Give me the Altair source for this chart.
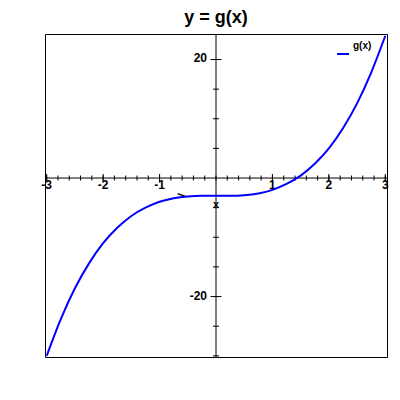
import altair as alt
import pandas as pd

# curve g(x)
x_vals = [-3, -2.75, -2.5, -2.25, -2, -1.75, -1.5, -1.25, -1, -0.75, -0.5, -0.25,
          0, 0.25, 0.5, 0.75, 1, 1.25, 1.5, 1.75, 2, 2.25, 2.5, 2.75, 3]
g_vals = [-30, -23.8, -18.6, -14.4, -11, -8.4, -6.4, -5.0, -4, -3.4, -3.1, -3.0,
          -3, -3.0, -2.9, -2.6, -2, -1.0, 0.4, 2.4, 5, 8.4, 12.6, 17.8, 24]
series_name = "g(x)"

x_major = [-3, -2, -1, 1, 2, 3]
x_major_labels = ["-3", "-2", "-1", "1", "2", "3"]
x_minor = [round(-3 + 0.2 * i, 1) for i in range(31)]
y_major = [-20, 20]
y_major_labels = ["-20", "20"]
y_minor = [-30, -25, -15, -10, -5, 5, 10, 15]

title_text = "y = g(x)"
x_title = "x"
arrow_start = (-0.68, -2.65)
arrow_end = (-0.53, -3.15)

FONT = "Liberation Sans"
BLUE = "#0000ff"
xs = alt.Scale(domain=[-3.03, 3.03], nice=False, zero=False)
ys = alt.Scale(domain=[-30.2, 24.3], nice=False, zero=False)

curve_df = pd.DataFrame({"x": x_vals, "y": g_vals, "series": series_name})

curve = alt.Chart(curve_df).mark_line(
    strokeWidth=2, interpolate="monotone", color=BLUE).encode(
    x=alt.X("x:Q", scale=xs, axis=None),
    y=alt.Y("y:Q", scale=ys, axis=None),
    detail="series:N",
)

# legend (manual, placed in the top-right corner of the plot)
leg_df = pd.DataFrame({"lab": [series_name]})
legend_line = alt.Chart(leg_df).mark_rule(color=BLUE, strokeWidth=2).encode(
    x=alt.value(292), x2=alt.value(304), y=alt.value(20))
legend_text = alt.Chart(leg_df).mark_text(
    font=FONT, fontSize=10, fontWeight="bold", align="left", baseline="middle",
    color="black").encode(x=alt.value(308), y=alt.value(12), text="lab:N")

zero_df = pd.DataFrame({"v": [0]})
x_axis_line = alt.Chart(zero_df).mark_rule(color="black", strokeWidth=1).encode(
    y=alt.Y("v:Q", scale=ys, axis=None))
y_axis_line = alt.Chart(zero_df).mark_rule(color="black", strokeWidth=1).encode(
    x=alt.X("v:Q", scale=xs, axis=None))

xminor_df = pd.DataFrame({"t": x_minor, "z": 0})
xmajor_df = pd.DataFrame({"t": x_major, "z": 0, "lab": x_major_labels})
yminor_df = pd.DataFrame({"t": y_minor, "z": 0})
ymajor_df = pd.DataFrame({"t": y_major, "z": 0, "lab": y_major_labels})

x_minor_ticks = alt.Chart(xminor_df).mark_tick(
    orient="vertical", size=5, thickness=1, color="black", opacity=1).encode(
    x=alt.X("t:Q", scale=xs, axis=None), y=alt.Y("z:Q", scale=ys, axis=None))
x_major_ticks = alt.Chart(xmajor_df).mark_tick(
    orient="vertical", size=8, thickness=1, color="black", opacity=1).encode(
    x=alt.X("t:Q", scale=xs, axis=None), y=alt.Y("z:Q", scale=ys, axis=None))
y_minor_ticks = alt.Chart(yminor_df).mark_tick(
    orient="horizontal", size=6, thickness=1, color="black", opacity=1).encode(
    y=alt.Y("t:Q", scale=ys, axis=None), x=alt.X("z:Q", scale=xs, axis=None))
y_major_ticks = alt.Chart(ymajor_df).mark_tick(
    orient="horizontal", size=11, thickness=1, color="black", opacity=1).encode(
    y=alt.Y("t:Q", scale=ys, axis=None), x=alt.X("z:Q", scale=xs, axis=None))

x_labels = alt.Chart(xmajor_df).mark_text(
    font=FONT, fontSize=12, fontWeight="bold", baseline="top", align="center",
    dy=2, color="black").encode(
    x=alt.X("t:Q", scale=xs, axis=None), y=alt.Y("z:Q", scale=ys, axis=None),
    text="lab:N")
y_labels = alt.Chart(ymajor_df).mark_text(
    font=FONT, fontSize=12, fontWeight="bold", baseline="middle", align="right",
    dx=-9, dy=-1, color="black").encode(
    y=alt.Y("t:Q", scale=ys, axis=None), x=alt.X("z:Q", scale=xs, axis=None),
    text="lab:N")

xt_df = pd.DataFrame({"x": [0], "y": [0], "lab": [x_title]})
x_title_mark = alt.Chart(xt_df).mark_text(
    font=FONT, fontSize=11, fontWeight="bold", baseline="middle", align="center",
    dy=27, color="black").encode(
    x=alt.X("x:Q", scale=xs, axis=None), y=alt.Y("y:Q", scale=ys, axis=None),
    text="lab:N")

arrow_df = pd.DataFrame({"x": [arrow_start[0]], "x2": [arrow_end[0]],
                         "y": [arrow_start[1]], "y2": [arrow_end[1]]})
arrow = alt.Chart(arrow_df).mark_rule(color="black", strokeWidth=1.3).encode(
    x=alt.X("x:Q", scale=xs, axis=None), x2="x2:Q",
    y=alt.Y("y:Q", scale=ys, axis=None), y2="y2:Q")

chart = alt.layer(
    x_axis_line, y_axis_line, x_minor_ticks, x_major_ticks, y_minor_ticks,
    y_major_ticks, x_labels, y_labels, x_title_mark, arrow, curve,
    legend_line, legend_text,
).properties(
    width=342, height=323,
    autosize=alt.AutoSizeParams(type="none"),
    padding={"left": 37, "top": 26, "right": 2, "bottom": 20},
    title=alt.TitleParams(title_text, font=FONT, fontSize=18, fontWeight="bold",
                          anchor="middle", offset=5, color="black"),
).configure_view(stroke="black", strokeWidth=1)

chart.save("out.html", embed_options={"renderer": "svg", "actions": False})
